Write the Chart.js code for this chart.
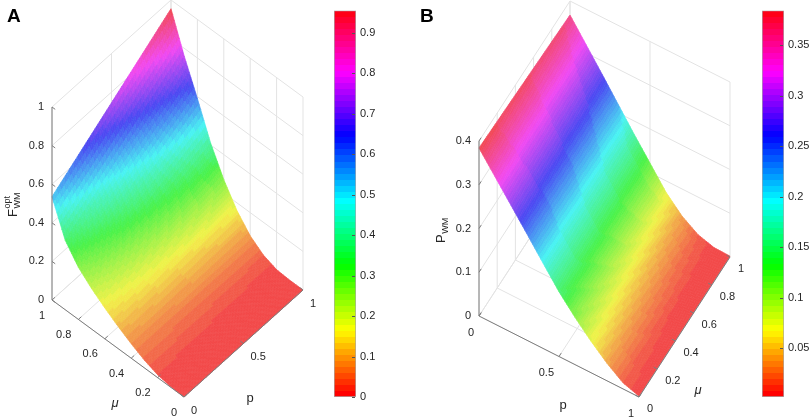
<!DOCTYPE html>
<html>
<head>
<meta charset="utf-8">
<script src="https://cdn.jsdelivr.net/npm/chart.js@4.4.1/dist/chart.umd.min.js"></script>
<style>
  body { margin: 0; background: #fff; }
  #wrap { position: relative; width: 809px; height: 417px; overflow: hidden; }
  .box { position: absolute; top: 0; height: 417px; }
</style>
</head>
<body>
<div id="wrap">
  <div class="box" style="left:0;width:332px"><canvas id="surfA"></canvas></div>
  <div class="box" style="left:334px;width:62px"><canvas id="barA"></canvas></div>
  <div class="box" style="left:400px;width:360px"><canvas id="surfB"></canvas></div>
  <div class="box" style="left:762px;width:47px"><canvas id="barB"></canvas></div>
</div>
<script>
// === Data: panel A, F_WM^opt on a (mu, p) grid ===
const muA = [0, 0.1, 0.2, 0.3, 0.4, 0.5, 0.6, 0.7, 0.8, 0.9, 1];
const pA = [0, 0.5, 1];
const fWmP0 = [0, 0.003, 0.015, 0.04, 0.075, 0.115, 0.16, 0.21, 0.27, 0.36, 0.535];
const fWmP05 = [0, 0.002, 0.01, 0.035, 0.078, 0.138, 0.215, 0.31, 0.43, 0.56, 0.745];
const fWmP1 = [0, 0, 0.005, 0.03, 0.08, 0.16, 0.27, 0.41, 0.59, 0.76, 0.955];
const zTicksA = [0, 0.2, 0.4, 0.6, 0.8, 1];
const muTicksA = [0, 0.2, 0.4, 0.6, 0.8, 1];
const pTicksA = [0, 0.5, 1];
const cbTicksA = [0, 0.1, 0.2, 0.3, 0.4, 0.5, 0.6, 0.7, 0.8, 0.9];

// === Data: panel B, P_WM on a (mu, p) grid ===
const pB = [0, 0.1, 0.2, 0.3, 0.4, 0.5, 0.6, 0.7, 0.8, 0.9, 1];
const muB = [0, 0.5, 1];
const pWmMu0 = [0.384, 0.337, 0.29, 0.243, 0.195, 0.148, 0.108, 0.072, 0.04, 0.014, 0.002];
const pWmMu05 = [0.376, 0.328, 0.28, 0.232, 0.183, 0.135, 0.091, 0.055, 0.027, 0.008, 0.002];
const pWmMu1 = [0.368, 0.319, 0.27, 0.22, 0.17, 0.122, 0.074, 0.038, 0.014, 0.003, 0.002];
const zTicksB = [0, 0.1, 0.2, 0.3, 0.4];
const muTicksB = [0, 0.2, 0.4, 0.6, 0.8, 1];
const pTicksB = [0, 0.5, 1];
const cbTicksB = [0.05, 0.1, 0.15, 0.2, 0.25, 0.3, 0.35];

const FONT = '"Liberation Sans", Arial, Helvetica, sans-serif';
const TEXT = "#262626";
const AXIS = "#7d7d7d";
const GRID = "#e3e3e3";
const NCOL = 64;
Chart.defaults.font.family = FONT;

// MATLAB-like hsv colormap
const hsv = (k) => {
  const h = (k / NCOL) * 6;
  const i = Math.floor(h), f = h - i, q = 1 - f;
  const rgb = [[1, f, 0], [q, 1, 0], [0, 1, f], [0, q, 1], [f, 0, 1], [1, 0, q]][i % 6];
  return rgb.map(v => Math.round(v * 255));
};
const rgbStr = (c, light = 0, dim = 1) =>
  `rgb(${c.map(v => Math.round((v + (255 - v) * light) * dim)).join(",")})`;

const flat = (arrs) => arrs.flat();

const panelA = {
  letter: "A", letterX: 7,
  mu: muA, p: pA,
  z: muA.map((_, i) => [fWmP0[i], fWmP05[i], fWmP1[i]]),
  zTicks: zTicksA, muTicks: muTicksA, pTicks: pTicksA,
  origin: [184, 397], vMu: [-132, -97], vP: [119, -107], vZ: [0, -193],
  wallMu: 1, wallP: 1, zAxisAt: [1, 0], muAxisP: 0, pAxisMu: 0,
  zTick: { dir: ["mu", -1], off: [-8, 0], align: "right", base: "middle" },
  muTick: { dir: ["p", 1], off: [-7, 10], align: "right", base: "top" },
  pTick: { dir: ["mu", 1], off: [7, 8], align: "left", base: "top" },
  muTitle: [115, 403], pTitle: [250, 398],
  zTitle: { at: [17, 217], main: "F", sub: "WM", sup: "opt" },
};
const panelB = {
  letter: "B", letterX: 20,
  mu: muB, p: pB,
  z: [pWmMu0, pWmMu05, pWmMu1],
  zTicks: zTicksB, muTicks: muTicksB, pTicks: pTicksB,
  origin: [79, 316], vMu: [91, -140], vP: [160, 81], vZ: [0, -437.5],
  wallMu: 1, wallP: 0, zAxisAt: [0, 0], muAxisP: 1, pAxisMu: 0,
  zTick: { dir: ["mu", 1], off: [-8, 0], align: "right", base: "middle" },
  muTick: { dir: ["p", -1], off: [8, 6], align: "left", base: "top" },
  pTick: { dir: ["mu", 1], off: [-5, 11], align: "right", base: "top" },
  muTitle: [298, 390], pTitle: [163, 405],
  zTitle: { at: [45, 243], main: "P", sub: "WM", sup: "" },
};

const project = (cfg, mu, p, z) => ({
  x: cfg.origin[0] + mu * cfg.vMu[0] + p * cfg.vP[0] + z * cfg.vZ[0],
  y: cfg.origin[1] + mu * cfg.vMu[1] + p * cfg.vP[1] + z * cfg.vZ[1],
});

const toPx = (chart, pt) => [chart.scales.x.getPixelForValue(pt.x), chart.scales.y.getPixelForValue(pt.y)];

const unitDir = (cfg, [axis, sign]) => {
  const v = axis === "mu" ? cfg.vMu : cfg.vP;
  const n = Math.hypot(v[0], v[1]);
  return [sign * v[0] / n, sign * v[1] / n];
};

// back walls and floor grid
const gridSegments = (cfg) => {
  const zTop = cfg.zTicks[cfg.zTicks.length - 1];
  const m = cfg.wallMu, q = cfg.wallP;
  const segs = [];
  cfg.zTicks.forEach(z => { segs.push([[m, 0, z], [m, 1, z]]); segs.push([[0, q, z], [1, q, z]]); });
  cfg.pTicks.forEach(p => { segs.push([[m, p, 0], [m, p, zTop]]); segs.push([[0, p, 0], [1, p, 0]]); });
  cfg.muTicks.forEach(u => { segs.push([[u, q, 0], [u, q, zTop]]); segs.push([[u, 0, 0], [u, 1, 0]]); });
  return segs;
};

const drawSurface = (chart, cfg) => {
  const { mu, p, z } = cfg;
  const ctx = chart.ctx;
  const vals = flat(z);
  const cmin = Math.min(...vals), cmax = Math.max(...vals);
  const subMu = Math.max(1, Math.round(80 / (mu.length - 1)));
  const subP = Math.max(1, Math.round(80 / (p.length - 1)));
  const quads = [];

  for (let i = 0; i < mu.length - 1; i++) {
    for (let j = 0; j < p.length - 1; j++) {
      const z00 = z[i][j], z10 = z[i + 1][j], z01 = z[i][j + 1], z11 = z[i + 1][j + 1];
      const at = (s, t) => z00 * (1 - s) * (1 - t) + z10 * s * (1 - t) + z01 * (1 - s) * t + z11 * s * t;
      const muAt = (s) => mu[i] + (mu[i + 1] - mu[i]) * s;
      const pAt = (t) => p[j] + (p[j + 1] - p[j]) * t;
      for (let a = 0; a < subMu; a++) {
        for (let b = 0; b < subP; b++) {
          const s0 = a / subMu, s1 = (a + 1) / subMu, t0 = b / subP, t1 = (b + 1) / subP;
          const corners = [[s0, t0], [s1, t0], [s1, t1], [s0, t1]]
            .map(([s, t]) => toPx(chart, project(cfg, muAt(s), pAt(t), at(s, t))));
          const sc = (s0 + s1) / 2, tc = (t0 + t1) / 2;
          quads.push({
            corners,
            val: at(sc, tc),
            depth: project(cfg, muAt(sc), pAt(tc), 0).y,
          });
        }
      }
    }
  }

  quads.sort((a, b) => a.depth - b.depth);
  ctx.save();
  ctx.lineWidth = 0.7;
  ctx.lineJoin = "round";
  quads.forEach(q => {
    const k = Math.min(NCOL - 1, Math.max(0, Math.floor((q.val - cmin) / (cmax - cmin) * NCOL)));
    const col = rgbStr(hsv(k), 0.3, 0.95);
    ctx.beginPath();
    q.corners.forEach(([x, y], n) => (n ? ctx.lineTo(x, y) : ctx.moveTo(x, y)));
    ctx.closePath();
    ctx.fillStyle = col;
    ctx.strokeStyle = col;
    ctx.fill();
    ctx.stroke();
  });
  ctx.restore();
};

const drawAxes = (chart, cfg) => {
  const ctx = chart.ctx;
  const zTop = cfg.zTicks[cfg.zTicks.length - 1];
  const line = (a, b) => {
    const [x1, y1] = toPx(chart, project(cfg, ...a));
    const [x2, y2] = toPx(chart, project(cfg, ...b));
    ctx.beginPath(); ctx.moveTo(x1, y1); ctx.lineTo(x2, y2); ctx.stroke();
  };
  const [zm, zp] = cfg.zAxisAt;

  ctx.save();
  ctx.strokeStyle = AXIS;
  ctx.lineWidth = 1;
  line([zm, zp, 0], [zm, zp, zTop]);
  line([0, cfg.muAxisP, 0], [1, cfg.muAxisP, 0]);
  line([cfg.pAxisMu, 0, 0], [cfg.pAxisMu, 1, 0]);

  ctx.fillStyle = TEXT;
  ctx.font = `11px ${FONT}`;
  const ticks = (values, toPoint, spec) => {
    const d = unitDir(cfg, spec.dir);
    ctx.textAlign = spec.align;
    ctx.textBaseline = spec.base;
    values.forEach(v => {
      const [x, y] = toPx(chart, project(cfg, ...toPoint(v)));
      ctx.beginPath(); ctx.moveTo(x, y); ctx.lineTo(x + d[0] * 4, y + d[1] * 4); ctx.stroke();
      ctx.fillText(String(v), x + spec.off[0], y + spec.off[1]);
    });
  };
  ticks(cfg.zTicks, v => [zm, zp, v], cfg.zTick);
  ticks(cfg.muTicks, v => [v, cfg.muAxisP, 0], cfg.muTick);
  ticks(cfg.pTicks, v => [cfg.pAxisMu, v, 0], cfg.pTick);

  // axis titles
  ctx.textAlign = "center";
  ctx.textBaseline = "middle";
  ctx.font = `italic 13px ${FONT}`;
  ctx.fillText("\u03bc", ...cfg.muTitle);
  ctx.font = `13px ${FONT}`;
  ctx.fillText("p", ...cfg.pTitle);

  const t = cfg.zTitle;
  ctx.save();
  ctx.translate(...t.at);
  ctx.rotate(-Math.PI / 2);
  ctx.textAlign = "left";
  ctx.textBaseline = "alphabetic";
  ctx.font = `13px ${FONT}`;
  ctx.fillText(t.main, 0, 0);
  const w = ctx.measureText(t.main).width + 0.5;
  ctx.font = `9px ${FONT}`;
  ctx.fillText(t.sub, w, 3);
  if (t.sup) ctx.fillText(t.sup, w, -7);
  ctx.restore();

  ctx.fillStyle = "#000";
  ctx.textAlign = "left";
  ctx.textBaseline = "alphabetic";
  ctx.font = `bold 19px ${FONT}`;
  ctx.fillText(cfg.letter, cfg.letterX, 22);
  ctx.restore();
};

const makeSurface = (id, cfg) => {
  const el = document.getElementById(id);
  const w = el.parentNode.clientWidth, h = el.parentNode.clientHeight;
  new Chart(el, {
    type: "scatter",
    data: {
      datasets: gridSegments(cfg).map(seg => ({
        data: seg.map(c => project(cfg, ...c)),
        showLine: true,
        borderColor: GRID,
        borderWidth: 1,
        pointRadius: 0,
      })),
    },
    options: {
      responsive: true,
      maintainAspectRatio: false,
      animation: false,
      layout: { padding: 0 },
      plugins: { legend: { display: false }, tooltip: { enabled: false } },
      scales: {
        x: { type: "linear", min: 0, max: w, display: false },
        y: { type: "linear", min: 0, max: h, reverse: true, display: false },
      },
    },
    plugins: [{
      id: "surface3d",
      afterDatasetsDraw(chart) {
        drawSurface(chart, cfg);
        drawAxes(chart, cfg);
      },
    }],
  });
};

const makeColorbar = (id, values, ticks, axisWidth) => {
  const all = flat(values);
  const cmin = Math.min(...all), cmax = Math.max(...all);
  new Chart(document.getElementById(id), {
    type: "bar",
    data: {
      labels: [""],
      datasets: [{
        data: [[cmin, cmax]],
        backgroundColor: (c) => {
          const area = c.chart.chartArea;
          if (!area) return "#f00";
          const g = c.chart.ctx.createLinearGradient(0, area.bottom, 0, area.top);
          for (let k = 0; k < NCOL; k++) {
            g.addColorStop(k / NCOL, rgbStr(hsv(k)));
            g.addColorStop((k + 1) / NCOL, rgbStr(hsv(k)));
          }
          return g;
        },
        borderColor: "#a8a8a8",
        borderWidth: 1,
        borderSkipped: false,
        barPercentage: 1,
        categoryPercentage: 1,
      }],
    },
    options: {
      responsive: true,
      maintainAspectRatio: false,
      animation: false,
      layout: { padding: { top: 3, bottom: 20, left: 0, right: 0 } },
      plugins: { legend: { display: false }, tooltip: { enabled: false } },
      scales: {
        x: { display: false },
        y: {
          position: "right",
          min: cmin,
          max: cmax,
          afterBuildTicks: (s) => { s.ticks = ticks.map(v => ({ value: v })); },
          afterFit: (s) => { s.width = axisWidth; },
          grid: { display: false, drawTicks: false },
          border: { display: false },
          ticks: {
            color: TEXT,
            font: { size: 11 },
            padding: 4,
            callback: (v) => String(+Number(v).toFixed(4)),
          },
        },
      },
    },
    plugins: [{
      id: "cbTicks",
      afterDraw(chart) {
        const { ctx, chartArea } = chart;
        const ys = chart.scales.y;
        ctx.save();
        ctx.strokeStyle = "#555";
        ctx.lineWidth = 1;
        ys.ticks.forEach(t => {
          const y = Math.round(ys.getPixelForValue(t.value)) + 0.5;
          ctx.beginPath();
          ctx.moveTo(chartArea.right - 1, y);
          ctx.lineTo(chartArea.right - 4, y);
          ctx.stroke();
        });
        ctx.restore();
      },
    }],
  });
};

document.addEventListener("DOMContentLoaded", () => {
  makeSurface("surfA", panelA);
  makeSurface("surfB", panelB);
  makeColorbar("barA", panelA.z, cbTicksA, 40);
  makeColorbar("barB", panelB.z, cbTicksB, 25);
});
</script>
</body>
</html>
